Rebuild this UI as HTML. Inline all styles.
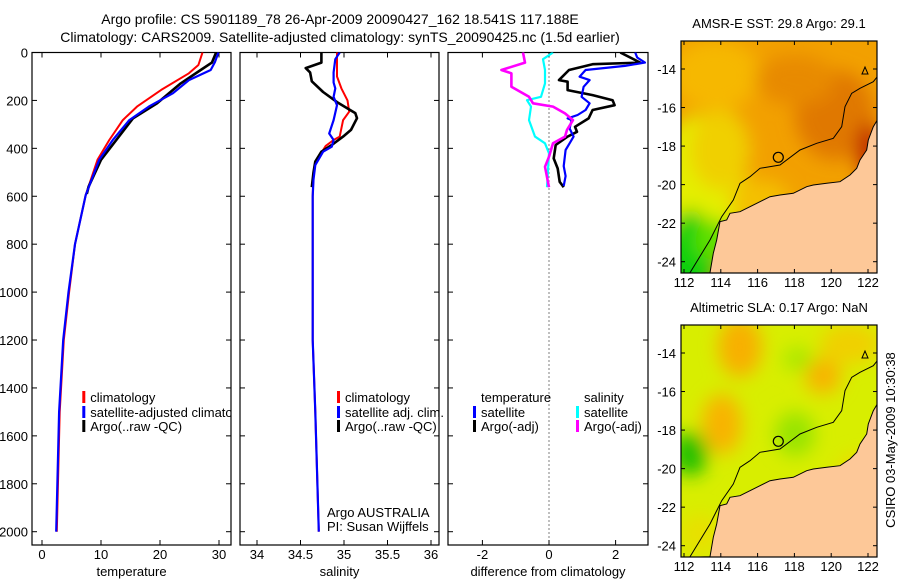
<!DOCTYPE html>
<html><head><meta charset="utf-8"><style>
body{margin:0;background:#fff}
svg{display:block}
text{font-family:"Liberation Sans",sans-serif;fill:#000}
</style></head><body>
<svg id="fig" width="900" height="580" viewBox="0 0 900 580" xmlns="http://www.w3.org/2000/svg">
<defs>
<filter id="blur8" x="-50%" y="-50%" width="200%" height="200%"><feGaussianBlur stdDeviation="9"/></filter>
<clipPath id="clipSST"><rect x="681" y="41" width="196" height="232"/></clipPath>
<clipPath id="clipSLA"><rect x="681" y="325" width="196" height="232"/></clipPath>
<clipPath id="clipP1"><rect x="32" y="52.5" width="199" height="492.5"/></clipPath>
<clipPath id="clipP2"><rect x="240" y="52.5" width="199" height="492.5"/></clipPath>
<clipPath id="clipP3"><rect x="448" y="52.5" width="200" height="492.5"/></clipPath>
</defs>
<text x="340" y="24" font-size="14" text-anchor="middle">Argo profile: CS 5901189_78 26-Apr-2009 20090427_162 18.541S 117.188E</text>
<text x="340" y="42" font-size="14" text-anchor="middle">Climatology: CARS2009. Satellite-adjusted climatology: synTS_20090425.nc (1.5d earlier)</text>
<g id="g"></g>
<text x="895" y="440" font-size="13" text-anchor="middle" transform="rotate(-90 895 440)" dy="0">CSIRO 03-May-2009 10:30:38</text>
</svg>
<script>
// ---- data ----
const depthTicks=[0,200,400,600,800,1000,1200,1400,1600,1800,2000];
const tempTicks=[0,10,20,30];
const salTicks=[34,34.5,35,35.5,36];
const salTickLabels=["34","34.5","35","35.5","36"];
const diffTicks=[-2,0,2];
// temperature
const tClimDepth=[0,52,87,156,226,282,365,448,595,800,1000,1200,1500,2000];
const tClimVal=[27.2,26.5,24.9,20.2,16.1,13.7,11.4,9.4,7.4,5.6,4.6,3.7,3.0,2.5];
const tSatDepth=[0,40,73,115,170,226,282,365,448,595,800,1000,1200,1500,2000];
const tSatVal=[29.9,29.3,28.6,24.9,22.2,18.1,14.8,12.0,9.7,7.4,5.6,4.5,3.6,2.9,2.4];
const tArgoDepth=[0,42,73,129,212,275,365,448,560,590];
const tArgoVal=[29.5,28.8,26.9,23.5,19.5,15.4,12.6,10.0,7.9,7.6];
// salinity
const sClimDepth=[0,100,150,200,247,282,351,365,390,460,500,600,1200,1500,2000];
const sClimVal=[34.92,34.92,34.97,35.04,35.06,34.99,34.95,34.88,34.79,34.67,34.65,34.64,34.64,34.67,34.71];
const sSatDepth=[0,28,83,125,150,185,220,282,338,365,393,414,470,530,600,1200,1500,2000];
const sSatVal=[34.95,34.9,34.88,34.88,34.9,34.88,34.92,34.88,34.83,34.88,34.86,34.76,34.67,34.65,34.64,34.64,34.67,34.71];
const sArgoDepth=[0,42,65,83,120,165,207,253,274,323,351,386,414,455,500,562];
const sArgoVal=[34.74,34.74,34.56,34.61,34.63,34.76,34.92,35.13,35.15,35.08,34.99,34.86,34.74,34.67,34.65,34.63];
// differences
const dTSatDepth=[0,21,42,56,73,101,115,143,185,212,240,261,275,282,317,351,379,407,474,516,557];
const dTSatVal=[2.59,2.65,2.88,2.28,1.1,0.92,1.22,1.04,0.98,1.22,1.1,0.86,0.56,0.68,0.62,0.74,0.62,0.5,0.44,0.5,0.44];
const dTArgoDepth=[0,42,49,73,115,122,157,178,199,220,240,275,310,331,351,386,442,484,540,562];
const dTArgoVal=[2.14,2.74,1.31,0.6,0.3,0.56,0.56,1.31,1.91,1.97,1.31,1.19,0.78,0.84,0.56,0.2,0.14,0.26,0.32,0.44];
const dSSatDepth=[0,28,73,129,185,199,226,282,351,379,421,562];
const dSSatVal=[0.12,-0.18,-0.12,-0.12,-0.24,-0.66,-0.54,-0.6,-0.42,-0.12,0,-0.06];
const dSArgoDepth=[0,42,73,87,143,185,212,226,254,282,323,351,379,435,477,562];
const dSArgoVal=[-0.78,-0.72,-1.43,-1.13,-1.13,-0.6,-0.48,0.12,0.48,0.72,0.54,0.48,0.12,0,-0.12,0];
// maps
const latTicks=[-14,-16,-18,-20,-22,-24];
const lonTicks=[112,114,116,118,120,122];

// ---- scales ----
const yD=d=>52.5+d*0.2396;
const xT=t=>42+t*5.9;
const xS=s=>257+(s-34)*87;
const xDf=v=>549+v*33.3;
const NS="http://www.w3.org/2000/svg";
const G=document.getElementById('g');
function el(tag,attrs,parent){const e=document.createElementNS(NS,tag);for(const k in attrs)e.setAttribute(k,attrs[k]);(parent||G).appendChild(e);return e;}
function txt(x,y,s,size,anchor,name){const t=el('text',{x:x,y:y,'font-size':size,'text-anchor':anchor});t.textContent=s;


return t;}
function line(ds,vs,xf,color,w,clip,name){
 const pts=ds.map((d,i)=>xf(vs[i]).toFixed(1)+','+yD(d).toFixed(1)).join(' ');
 const p=el('polyline',{points:pts,fill:'none',stroke:color,'stroke-width':w,'clip-path':'url(#'+clip+')','stroke-linejoin':'round'});
 
 
}
function panel(x0,x1,xticks,xf,labels,xtitle,pname,showY){
 const box=el('rect',{x:x0,y:52.5,width:x1-x0,height:492.5,fill:'none',stroke:'#000','stroke-width':1.2});
 
 
 depthTicks.forEach(d=>{const y=yD(d);
  el('line',{x1:x0,x2:x0+5,y1:y,y2:y,stroke:'#000'});el('line',{x1:x1-5,x2:x1,y1:y,y2:y,stroke:'#000'});
  if(showY) txt(28,y+5,String(d),13,'end','y-tick-label');});
 xticks.forEach((v,i)=>{const x=xf(v);
  el('line',{x1:x,x2:x,y1:52.5,y2:57.5,stroke:'#000'});el('line',{x1:x,x2:x,y1:540,y2:545,stroke:'#000'});
  txt(x,559,labels[i],13,'middle','x-tick-label');});
 txt((x0+x1)/2,576,xtitle,13,'middle',pname+'-x-axis-title');
}
panel(32,231,tempTicks,xT,tempTicks.map(String),'temperature','temperature-panel',true);
panel(240,439,salTicks,xS,salTickLabels,'salinity','salinity-panel',false);
panel(448,648,diffTicks,xDf,diffTicks.map(String),'difference from climatology','difference-panel',false);
// zero dotted line
el('line',{x1:xDf(0),x2:xDf(0),y1:52.5,y2:545,stroke:'#000','stroke-dasharray':'1,3'});

line(tClimDepth,tClimVal,xT,'#f00',2,'clipP1','temp-climatology-line');
line(tArgoDepth,tArgoVal,xT,'#000',2.6,'clipP1','temp-argo-line');
line(tSatDepth,tSatVal,xT,'#00f',2.2,'clipP1','temp-satellite-line');
line(sClimDepth,sClimVal,xS,'#f00',2,'clipP2','sal-climatology-line');
line(sArgoDepth,sArgoVal,xS,'#000',2.6,'clipP2','sal-argo-line');
line(sSatDepth,sSatVal,xS,'#00f',2.2,'clipP2','sal-satellite-line');
line(dTArgoDepth,dTArgoVal,xDf,'#000',2.6,'clipP3','diff-temp-argo-line');
line(dTSatDepth,dTSatVal,xDf,'#00f',2.2,'clipP3','diff-temp-satellite-line');
line(dSSatDepth,dSSatVal,xDf,'#0ff',2.2,'clipP3','diff-sal-satellite-line');
line(dSArgoDepth,dSArgoVal,xDf,'#f0f',2.6,'clipP3','diff-sal-argo-line');

// legends
function leg(mx,y,color,label,clipId){
 if(color) el('rect',{x:mx-1,y:y-6,width:3,height:12,fill:color});
 const t=txt(mx+7,y+5,label,13,'start','legend-entry');
 if(clipId) t.setAttribute('clip-path','url(#'+clipId+')');
}
leg(83.3,397,'#f00','climatology');
leg(83.3,412,'#00f','satellite-adjusted climatology','clipP1');
leg(83.3,426,'#000','Argo(..raw -QC)');
leg(338,397,'#f00','climatology');
leg(338,412,'#00f','satellite adj. clim.');
leg(338,426,'#000','Argo(..raw -QC)');
txt(481,402,'temperature',13,'start','legend-temperature-header');
txt(584,402,'salinity',13,'start','legend-salinity-header');
leg(474,412,'#00f','satellite');
leg(474,426,'#000','Argo(-adj)');
leg(577,412,'#0ff','satellite');
leg(577,426,'#f0f','Argo(-adj)');
txt(327,517,'Argo AUSTRALIA',13,'start','agency-note');
txt(327,531,'PI: Susan Wijffels',13,'start','pi-note');

// ---- maps ----
const latY=(lat,top)=>top+28+( -14-lat)*19.27; // lat negative
const lonX=lon=>684+(lon-112)*18.4;
const coast=[[150,698],[160,640],[170,600],[180,545],[200,540],[210,520],[240,515],[270,500],[300,485],[330,470],[360,465],[400,460],[440,440],[460,435],[500,430],[540,425],[570,405],[590,385],[600,360],[620,330],[625,300],[640,260],[652,240]];
const shelf=[[90,698],[150,600],[185,530],[220,480],[240,430],[270,410],[300,385],[360,375],[420,330],[470,310],[520,295],[545,260],[555,200],[575,160],[600,145],[640,125],[652,110]];
function mapPanel(top,clip,base,blobs,title,name){
 const off=top-41;
 const g=el('g',{'clip-path':'url(#'+clip+')'});
 
 
 el('rect',{x:681,y:top,width:196,height:232,fill:base},g);
 const bg=el('g',{filter:'url(#blur8)'},g);
 blobs.forEach(b=>el('ellipse',{cx:b[0],cy:b[1]+off,rx:b[2],ry:b[3],fill:b[4]},bg));
 const conv=p=>(660+p[0]/3).toFixed(1)+','+(40+p[1]/3+off).toFixed(1);
 el('polygon',{points:coast.map(conv).join(' ')+' 877,'+(300+off)+' 877,'+(top+232)+' 700,'+(top+232),fill:'#fdc898',stroke:'#000','stroke-width':1},g);
 el('polyline',{points:shelf.map(conv).join(' '),fill:'none',stroke:'#000','stroke-width':1},g);
 el('circle',{cx:778.3,cy:157.3+off,r:5,fill:'none',stroke:'#000','stroke-width':1.2},g);
 el('polygon',{points:`862,${74+off} 865,${67+off} 868,${74+off}`,fill:'none',stroke:'#000'},g);
 const fr=el('rect',{x:681,y:top,width:196,height:232,fill:'none',stroke:'#000','stroke-width':1.2});
 
 
 latTicks.forEach(l=>{const y=latY(l,top);el('line',{x1:681,x2:685,y1:y,y2:y,stroke:'#000'});el('line',{x1:873,x2:877,y1:y,y2:y,stroke:'#000'});
  txt(676,y+5,String(l),13,'end','lat-tick-label');});
 lonTicks.forEach(l=>{const x=lonX(l);el('line',{x1:x,x2:x,y1:top,y2:top+4,stroke:'#000'});el('line',{x1:x,x2:x,y1:top+228,y2:top+232,stroke:'#000'});
  txt(x,top+246,String(l),13,'middle','lon-tick-label');});
 txt(779,top-13,title,13,'middle',name+'-title');
}
mapPanel(41,'clipSST','#f2a000',[
 [715,75,45,35,'#f6b800'],[700,185,45,70,'#e4ee00'],[720,150,30,40,'#f0d000'],[690,255,25,45,'#10d010'],[715,240,20,20,'#60e000'],
 [835,115,40,45,'#e07800'],[795,80,40,25,'#e88a00'],[868,150,12,28,'#c02800'],[760,200,30,20,'#f4c000']
],'AMSR-E SST: 29.8 Argo: 29.1','sst-map');
mapPanel(325,'clipSLA','#d8ee00',[
 [740,63,22,30,'#f8b000'],[823,92,18,18,'#f8b400'],[722,140,20,30,'#f8b400'],[690,170,18,22,'#20c000'],
 [795,150,20,22,'#98e400'],[798,75,15,12,'#a8e800'],[850,60,30,20,'#f0d000'],[860,200,25,30,'#f0d800'],[700,250,20,20,'#e8e000']
],'Altimetric SLA: 0.17 Argo: NaN','sla-map');
</script>
</body></html>
